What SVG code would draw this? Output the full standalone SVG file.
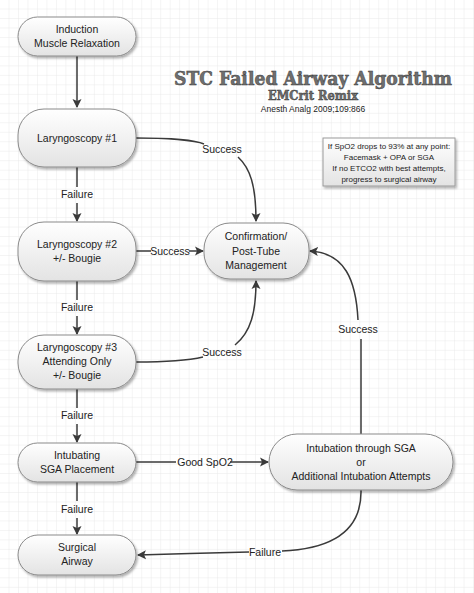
<svg xmlns="http://www.w3.org/2000/svg" width="474" height="593" viewBox="0 0 474 593">
<style>
.n{fill:url(#g);stroke:#8a8a8a;stroke-width:1;filter:url(#sh)}
.t{font-family:"Liberation Sans",Arial,sans-serif;font-size:10.5px;fill:#222;text-anchor:middle}
.c{fill:none;stroke:#3a3a3a;stroke-width:1.5}
.a{marker-end:url(#ah)}
.nt{font-family:"Liberation Sans",Arial,sans-serif;font-size:8px;fill:#222;text-anchor:middle}
.ti{font-family:"DejaVu Serif","Liberation Serif",serif;font-weight:bold;fill:#6f6f6f;stroke:#3e3e3e;stroke-width:0.5;text-anchor:middle}
</style>
<defs>
<pattern id="grid" width="9.48" height="9.48" patternUnits="userSpaceOnUse">
<path d="M9.48 0V9.48H0" fill="none" stroke="#e4e4e4" stroke-width="0.8"/>
</pattern>
<linearGradient id="g" x1="0" y1="0" x2="0" y2="1">
<stop offset="0" stop-color="#ffffff"/>
<stop offset="1" stop-color="#e3e3e3"/>
</linearGradient>
<filter id="sh" x="-10%" y="-10%" width="130%" height="140%">
<feDropShadow dx="1.5" dy="2" stdDeviation="1.2" flood-color="#000" flood-opacity="0.3"/>
</filter>
<marker id="ah" markerWidth="10" markerHeight="10" refX="8" refY="5" orient="auto" markerUnits="userSpaceOnUse">
<path d="M0,0.5 L9,5 L0,9.5 L2,5 Z" fill="#3a3a3a"/>
</marker>
</defs>
<rect width="474" height="593" fill="#fff"/>
<rect width="474" height="593" fill="url(#grid)"/>

<g id="title">
<text class="ti" x="313" y="85" font-size="18" textLength="278" lengthAdjust="spacingAndGlyphs">STC Failed Airway Algorithm</text>
<text class="ti" x="313" y="100" font-size="12" textLength="90" lengthAdjust="spacingAndGlyphs">EMCrit Remix</text>
<text class="t" x="313" y="112" font-size="8.5" style="font-size:8.5px">Anesth Analg 2009;109:866</text>
</g>

<g id="note">
<rect x="323" y="138" width="132" height="48" fill="url(#g)" stroke="#9a9a9a" stroke-width="1" filter="url(#sh)"/>
<text class="nt" x="389" y="149">If SpO2 drops to 93% at any point:</text>
<text class="nt" x="389" y="160">Facemask + OPA or SGA</text>
<text class="nt" x="389" y="171">If no ETCO2 with best attempts,</text>
<text class="nt" x="389" y="182">progress to surgical airway</text>
</g>

<g id="connectors">
<path class="c a" d="M77,56 V107"/>
<path class="c" d="M77,167 V187"/>
<text class="t" x="77" y="198">Failure</text>
<path class="c a" d="M77,203 V221"/>
<path class="c" d="M77,281 V300"/>
<text class="t" x="77" y="311">Failure</text>
<path class="c a" d="M77,316 V334"/>
<path class="c" d="M77,389 V408"/>
<text class="t" x="77" y="419">Failure</text>
<path class="c a" d="M77,424 V442"/>
<path class="c" d="M77,482 V501"/>
<text class="t" x="77" y="513">Failure</text>
<path class="c a" d="M77,518 V534"/>

<path class="c" d="M136,138 C165,138 195,140 204,144"/>
<text class="t" x="222" y="153">Success</text>
<path class="c a" d="M238,157 C250,168 256,185 256,221"/>

<path class="c" d="M136,251 H151"/>
<text class="t" x="170" y="255">Success</text>
<path class="c a" d="M189,251 H203"/>

<path class="c" d="M136,362 C165,362 190,360 203,357"/>
<text class="t" x="222" y="356">Success</text>
<path class="c a" d="M235,345 C251,332 256,312 256,281"/>

<path class="c" d="M361,434 V339"/>
<text class="t" x="358" y="333">Success</text>
<path class="c a" d="M358,320 C356,280 345,253 310,251"/>

<path class="c" d="M136,462 H176"/>
<text class="t" x="205" y="466">Good SpO2</text>
<path class="c a" d="M230,462 H268"/>

<path class="c" d="M361,490 C362,532 330,549 282,551"/>
<text class="t" x="265" y="556">Failure</text>
<path class="c a" d="M249,552 C220,553 170,554 138,555"/>
</g>

<g id="induction">
<rect class="n" x="18" y="17" width="118" height="39" rx="19.5"/>
<text class="t" x="77" y="33">Induction</text>
<text class="t" x="77" y="47">Muscle Relaxation</text>
</g>
<g id="laryngoscopy1">
<rect class="n" x="18" y="109" width="118" height="58" rx="26"/>
<text class="t" x="77" y="142">Laryngoscopy #1</text>
</g>
<g id="laryngoscopy2">
<rect class="n" x="18" y="222" width="118" height="59" rx="26"/>
<text class="t" x="77" y="248">Laryngoscopy #2</text>
<text class="t" x="77" y="262">+/- Bougie</text>
</g>
<g id="confirmation">
<rect class="n" x="204" y="223" width="105" height="56" rx="26"/>
<text class="t" x="256" y="240">Confirmation/</text>
<text class="t" x="256" y="255">Post-Tube</text>
<text class="t" x="256" y="269">Management</text>
</g>
<g id="laryngoscopy3">
<rect class="n" x="18" y="335" width="118" height="54" rx="26"/>
<text class="t" x="77" y="351">Laryngoscopy #3</text>
<text class="t" x="77" y="365">Attending Only</text>
<text class="t" x="77" y="379">+/- Bougie</text>
</g>
<g id="intubating-sga">
<rect class="n" x="18" y="443" width="118" height="39" rx="19.5"/>
<text class="t" x="77" y="459">Intubating</text>
<text class="t" x="77" y="473">SGA Placement</text>
</g>
<g id="intubation-through-sga">
<rect class="n" x="269" y="434" width="184" height="56" rx="28"/>
<text class="t" x="361" y="452">Intubation through SGA</text>
<text class="t" x="361" y="466">or</text>
<text class="t" x="361" y="480">Additional Intubation Attempts</text>
</g>
<g id="surgical-airway">
<rect class="n" x="18" y="535" width="118" height="40" rx="20"/>
<text class="t" x="77" y="551">Surgical</text>
<text class="t" x="77" y="565">Airway</text>
</g>
</svg>
